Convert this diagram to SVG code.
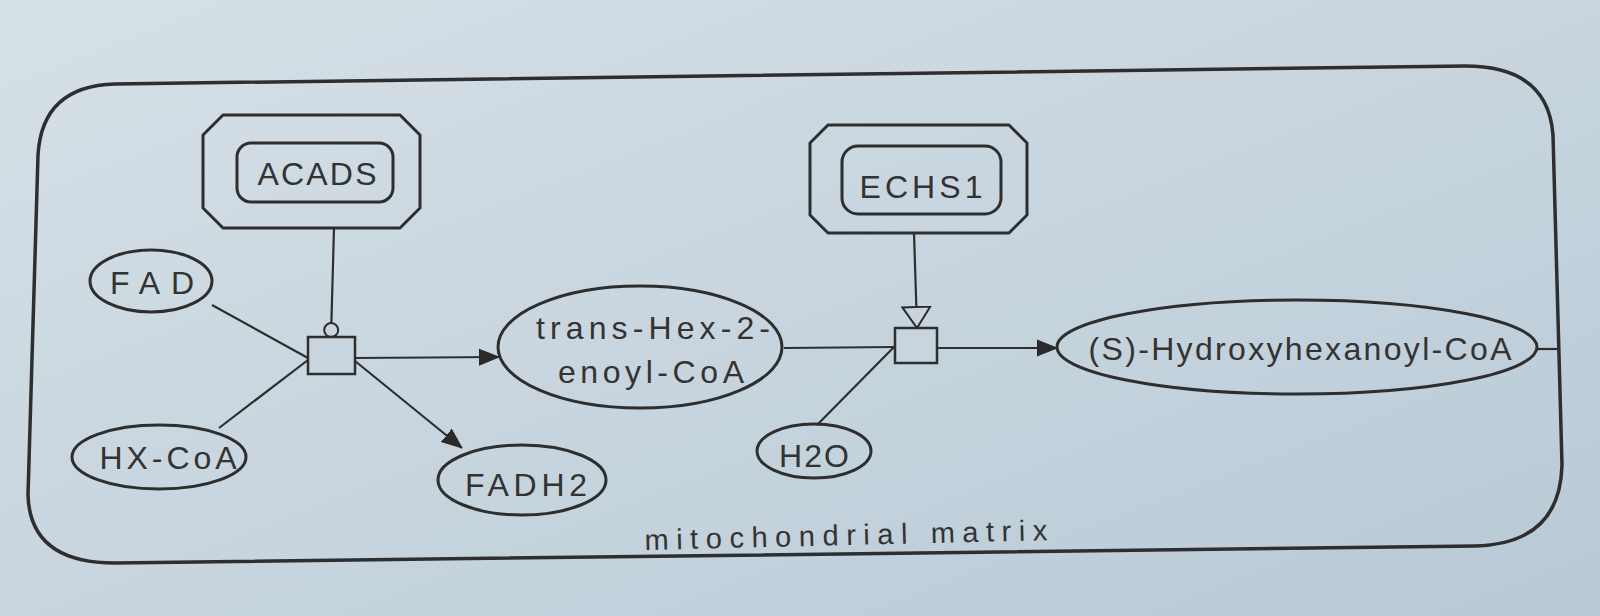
<svg xmlns="http://www.w3.org/2000/svg" width="1600" height="616" viewBox="0 0 1600 616">
  <defs>
    <linearGradient id="paper" x1="0" y1="0" x2="1" y2="1">
      <stop offset="0" stop-color="#d6e0e7"/>
      <stop offset="0.5" stop-color="#c8d5de"/>
      <stop offset="1" stop-color="#b8cad6"/>
    </linearGradient>
    <marker id="prod" viewBox="0 0 20 20" refX="20" refY="10" markerWidth="20" markerHeight="20" markerUnits="userSpaceOnUse" orient="auto">
      <path d="M0,2 L20,10 L0,18 Z" fill="#2a2a2a" stroke="#2a2a2a" stroke-width="1"/>
    </marker>
    <marker id="stim" viewBox="0 0 24 32" refX="22" refY="16" markerWidth="24" markerHeight="32" markerUnits="userSpaceOnUse" orient="auto">
      <path d="M1,2 L22,16 L1,30 Z" fill="#c8d5de" stroke="#2a2a2a" stroke-width="2"/>
    </marker>
    <marker id="cat" viewBox="0 0 18 18" refX="16" refY="9" markerWidth="18" markerHeight="18" markerUnits="userSpaceOnUse" orient="auto">
      <circle cx="9" cy="9" r="7" fill="#c8d5de" stroke="#2a2a2a" stroke-width="2"/>
    </marker>
  </defs>
  <style>
    .shape { fill: none; stroke: #2e2e2e; stroke-width: 3; stroke-linejoin: round; }
    .proc { fill: #c8d5de; stroke: #2e2e2e; stroke-width: 2.5; }
    .edge { fill: none; stroke: #2e2e2e; stroke-width: 2.2; }
    .lbl { font-family: "Liberation Sans", Arial, sans-serif; font-size: 32px; fill: #333; text-anchor: middle; dominant-baseline: central; }
    .comp { fill: none; stroke: #2e2e2e; stroke-width: 3.5; }
    .clbl { font-family: "Liberation Sans", Arial, sans-serif; font-size: 29px; fill: #333; text-anchor: middle; }
  </style>

  <rect x="0" y="0" width="1600" height="616" fill="url(#paper)"/>

  <g id="compartment">
    <path class="comp" d="M115,84 L1465,66 Q1548,66 1553,135 L1562,465 Q1560,544 1475,546 L115,563 Q30,563 28,495 L38,155 Q42,86 115,84 Z"/>
    <text class="clbl" x="846" y="545" transform="rotate(-1.4 846 540)" textLength="403" lengthAdjust="spacing">mitochondrial matrix</text>
  </g>

  <g id="connectors">
    <line class="edge" x1="212" y1="305" x2="308" y2="358"/>
    <line class="edge" x1="219" y1="428" x2="308" y2="360"/>
    <line class="edge" x1="355" y1="358" x2="499" y2="357" marker-end="url(#prod)"/>
    <line class="edge" x1="355" y1="361" x2="462" y2="448" marker-end="url(#prod)"/>
    <line class="edge" x1="334" y1="228" x2="331" y2="337" marker-end="url(#cat)"/>
    <line class="edge" x1="784" y1="348" x2="895" y2="347"/>
    <line class="edge" x1="817" y1="425" x2="895" y2="346"/>
    <line class="edge" x1="937" y1="348" x2="1057" y2="348" marker-end="url(#prod)"/>
    <line class="edge" x1="914" y1="233" x2="917" y2="328" marker-end="url(#stim)"/>
    <line class="edge" x1="1537" y1="349" x2="1557" y2="349"/>
  </g>

  <g id="ACADS">
    <polygon class="shape" points="223,115 400,115 420,135 420,208 400,228 223,228 203,208 203,135"/>
    <rect class="shape" x="237" y="143" width="156" height="59" rx="14"/>
    <text class="lbl" x="317" y="174" font-size="30" textLength="119" lengthAdjust="spacing">ACADS</text>
  </g>

  <g id="ECHS1">
    <polygon class="shape" points="828,125 1009,125 1027,143 1027,215 1009,233 828,233 810,215 810,143"/>
    <rect class="shape" x="842" y="146" width="159" height="68" rx="16"/>
    <text class="lbl" x="921" y="187" textLength="123" lengthAdjust="spacing">ECHS1</text>
  </g>

  <g id="FAD">
    <ellipse class="shape" cx="151" cy="281" rx="61" ry="31"/>
    <text class="lbl" x="152" y="283" textLength="84" lengthAdjust="spacing">FAD</text>
  </g>

  <g id="HX-CoA">
    <ellipse class="shape" cx="159" cy="457" rx="87" ry="32"/>
    <text class="lbl" x="168" y="458" textLength="137" lengthAdjust="spacing">HX-CoA</text>
  </g>

  <g id="FADH2">
    <ellipse class="shape" cx="522" cy="480" rx="84" ry="35"/>
    <text class="lbl" x="526" y="485" textLength="122" lengthAdjust="spacing">FADH2</text>
  </g>

  <g id="trans-Hex-2-enoyl-CoA">
    <ellipse class="shape" cx="640" cy="347" rx="142" ry="61"/>
    <text class="lbl" x="653" y="328" font-size="33" textLength="234" lengthAdjust="spacing">trans-Hex-2-</text>
    <text class="lbl" x="651" y="372" font-size="33" textLength="186" lengthAdjust="spacing">enoyl-CoA</text>
  </g>

  <g id="H2O">
    <ellipse class="shape" cx="814" cy="451" rx="57" ry="27"/>
    <text class="lbl" x="814" y="456" textLength="70" lengthAdjust="spacing">H2O</text>
  </g>

  <g id="S-Hydroxyhexanoyl-CoA">
    <ellipse class="shape" cx="1297" cy="347" rx="240" ry="47"/>
    <text class="lbl" x="1300" y="349" font-size="33" textLength="423" lengthAdjust="spacing">(S)-Hydroxyhexanoyl-CoA</text>
  </g>

  <g id="process1">
    <rect class="proc" x="308" y="337" width="47" height="37"/>
  </g>

  <g id="process2">
    <rect class="proc" x="895" y="328" width="42" height="35"/>
  </g>
</svg>
